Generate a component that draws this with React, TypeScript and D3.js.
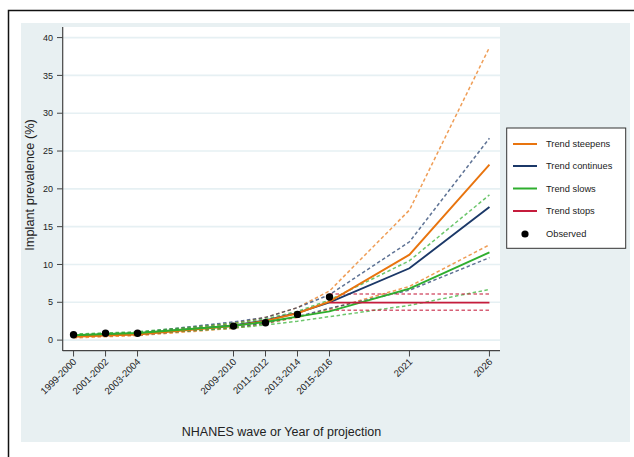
import React from "react";
import * as d3 from "d3";

const xVals = [2000, 2002, 2004, 2010, 2012, 2014, 2016, 2021, 2026];
const xLabels = ["1999-2000", "2001-2002", "2003-2004", "2009-2010", "2011-2012", "2013-2014", "2015-2016", "2021", "2026"];
const yTicks = [0, 5, 10, 15, 20, 25, 30, 35, 40];

const steepens = [0.45, 0.6, 0.75, 1.85, 2.55, 3.55, 5.1, 11.3, 23.2];
const steepensLo = [0.3, 0.45, 0.6, 1.55, 2.2, 3.0, 4.1, 7.1, 12.6];
const steepensHi = [0.65, 0.8, 0.95, 2.2, 3.0, 4.3, 6.5, 17.2, 38.7];
const continues = [0.55, 0.7, 0.85, 1.95, 2.6, 3.6, 5.0, 9.5, 17.6];
const continuesLo = [0.45, 0.6, 0.7, 1.7, 2.25, 3.1, 4.2, 6.6, 10.9];
const continuesHi = [0.7, 0.85, 1.0, 2.4, 3.0, 4.3, 6.0, 13.0, 26.7];
const slows = [0.65, 0.8, 0.95, 1.9, 2.4, 3.1, 3.8, 6.8, 11.6];
const slowsLo = [0.55, 0.7, 0.8, 1.6, 2.0, 2.5, 3.1, 4.6, 6.7];
const slowsHi = [0.8, 0.95, 1.1, 2.2, 2.8, 3.8, 5.3, 10.5, 19.2];
const stopsX = [2016, 2021, 2026];
const stops = [4.95, 4.95, 4.95];
const stopsLo = [3.95, 3.95, 3.95];
const stopsHi = [6.1, 6.1, 6.1];
const observedX = [2000, 2002, 2004, 2010, 2012, 2014, 2016];
const observed = [0.7, 0.9, 0.9, 1.85, 2.3, 3.4, 5.7];

const legendLabels = ["Trend steepens", "Trend continues", "Trend slows", "Trend stops", "Observed"];

const C_OR = "#e8740e";
const C_NV = "#1b3868";
const C_GR = "#2eae2e";
const C_RD = "#c51c3c";
const FONT = "'Liberation Sans', Arial, Helvetica, sans-serif";

export default function App() {
  const x = d3.scaleLinear().domain([1999.34, 2026.66]).range([63, 500]);
  const y = d3.scaleLinear().domain([-1.4, 41.4]).range([350.7, 27]);
  const line = (xs: number[], ys: number[]) =>
    d3.line<number>().x((_, i) => x(xs[i])).y((v) => y(v))(ys) || "";

  const dashed = [
    { xs: xVals, ys: steepensHi, c: C_OR },
    { xs: xVals, ys: steepensLo, c: C_OR },
    { xs: xVals, ys: continuesHi, c: C_NV },
    { xs: xVals, ys: continuesLo, c: C_NV },
    { xs: xVals, ys: slowsHi, c: C_GR },
    { xs: xVals, ys: slowsLo, c: C_GR },
    { xs: stopsX, ys: stopsHi, c: C_RD },
    { xs: stopsX, ys: stopsLo, c: C_RD },
  ];
  const solid = [
    { xs: xVals, ys: continues, c: C_NV },
    { xs: xVals, ys: steepens, c: C_OR },
    { xs: xVals, ys: slows, c: C_GR },
    { xs: stopsX, ys: stops, c: C_RD },
  ];
  const legendColors = [C_OR, C_NV, C_GR, C_RD];
  const legendY = [144, 166, 188.5, 211, 234];

  return (
    <svg width={634} height={457} style={{ position: "absolute", left: 0, top: 0 }} fontFamily={FONT}>
      <rect x={0} y={0} width={634} height={457} fill="#ffffff" />
      <rect x={21} y={23} width={609} height={419} fill="#e8f0f2" />
      <rect x={8.5} y={10.5} width={640} height={460} fill="none" stroke="#111" strokeWidth={1.5} />
      <rect x={63} y={27} width={437} height={323.7} fill="#ffffff" />
      {yTicks.map((t) => (
        <line key={"g" + t} x1={63} x2={500} y1={y(t)} y2={y(t)} stroke="#e6f0f3" strokeWidth={1.6} />
      ))}
      <line x1={62.7} x2={62.7} y1={27} y2={351} stroke="#444" strokeWidth={1.2} />
      <line x1={62.7} x2={500} y1={350.7} y2={350.7} stroke="#444" strokeWidth={1.2} />
      {yTicks.map((t) => (
        <g key={"yt" + t}>
          <line x1={57} x2={62.7} y1={y(t)} y2={y(t)} stroke="#444" strokeWidth={1} />
          <text x={53} y={y(t)} dy="0.35em" textAnchor="end" fontSize={9} fill="#222">{t}</text>
        </g>
      ))}
      {xVals.map((v, i) => (
        <g key={"xt" + v}>
          <line x1={x(v)} x2={x(v)} y1={350.7} y2={356.5} stroke="#444" strokeWidth={1} />
          <text
            transform={`translate(${x(v) + 3.5},${362.5}) rotate(-45)`}
            textAnchor="end"
            fontSize={9.6}
            fill="#222"
          >
            {xLabels[i]}
          </text>
        </g>
      ))}
      <text x={281.5} y={435.5} textAnchor="middle" fontSize={12.5} fill="#222">NHANES wave or Year of projection</text>
      <text transform={`translate(34,185) rotate(-90)`} textAnchor="middle" fontSize={12.8} fill="#222">Implant prevalence (%)</text>
      {dashed.map((d, i) => (
        <path key={"d" + i} d={line(d.xs, d.ys)} fill="none" stroke={d.c} strokeOpacity={0.7} strokeWidth={1.5} strokeDasharray="3.5,2.5" />
      ))}
      {solid.map((d, i) => (
        <path key={"s" + i} d={line(d.xs, d.ys)} fill="none" stroke={d.c} strokeWidth={1.9} />
      ))}
      {observed.map((v, i) => (
        <circle key={"o" + i} cx={x(observedX[i])} cy={y(v)} r={3.7} fill="#000" />
      ))}
      <rect x={506.7} y={128} width={119} height={120.3} fill="#fff" stroke="#333" strokeWidth={1} />
      {legendLabels.map((lab, i) => (
        <g key={"l" + i}>
          {i < 4 ? (
            <line x1={513} x2={537} y1={legendY[i]} y2={legendY[i]} stroke={legendColors[i]} strokeWidth={2} />
          ) : (
            <circle cx={525} cy={legendY[i]} r={3.6} fill="#000" />
          )}
          <text x={546} y={legendY[i]} dy="0.35em" fontSize={9.3} fill="#222">{lab}</text>
        </g>
      ))}
    </svg>
  );
}
